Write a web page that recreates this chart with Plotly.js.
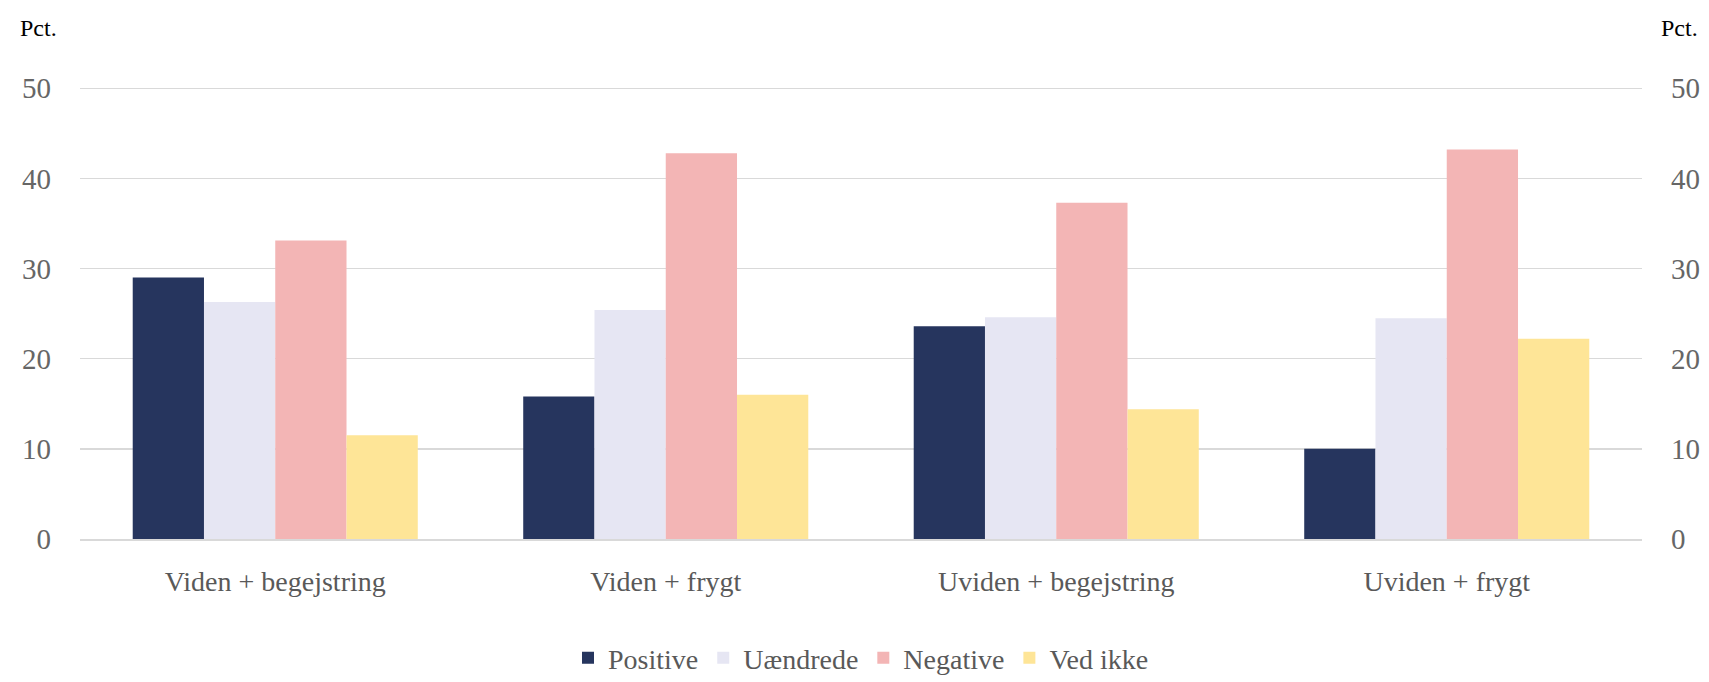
<!DOCTYPE html>
<html>
<head>
<meta charset="utf-8">
<script src="https://cdn.plot.ly/plotly-3.0.1.min.js"></script>
<style>
  html, body { margin: 0; padding: 0; background: #fff; }
  #chart { width: 1709px; height: 682px; }
</style>
</head>
<body>
<div id="chart"></div>
<script>
const categories = ['Viden + begejstring', 'Viden + frygt', 'Uviden + begejstring', 'Uviden + frygt'];
const positive = [29.0, 15.8, 23.6, 10.0];
const uaendrede = [26.3, 25.4, 24.6, 24.5];
const negative = [33.1, 42.8, 37.3, 43.2];
const vedIkke = [11.5, 16.0, 14.4, 22.2];
const yTicks = [0, 10, 20, 30, 40, 50];

const font = 'Liberation Serif';

function bar(name, values, color) {
  return {
    type: 'bar',
    name: name,
    x: categories,
    y: values,
    marker: { color: color, line: { width: 0 } },
    hoverinfo: 'x+y+name'
  };
}

const traces = [
  bar('Positive', positive, '#26355e'),
  bar('Uændrede', uaendrede, '#e6e6f3'),
  bar('Negative', negative, '#f3b5b5'),
  bar('Ved ikke', vedIkke, '#fee597'),
  // invisible trace to carry the right-hand axis
  { type: 'bar', x: categories, y: [0, 0, 0, 0], yaxis: 'y2', showlegend: false, hoverinfo: 'skip', marker: { color: 'rgba(0,0,0,0)' } }
];

const yaxisBase = {
  range: [0, 50.25],
  tickvals: yTicks,
  showgrid: true,
  gridcolor: '#d9d9d9',
  gridwidth: 1.5,
  zeroline: false,
  showline: false,
  ticks: '',
  ticklabelstandoff: 28,
  tickfont: { family: font, size: 29, color: '#666666' },
  fixedrange: true
};

const layout = {
  width: 1709,
  height: 682,
  margin: { l: 80, r: 67, t: 86, b: 143, autoexpand: false },
  paper_bgcolor: '#ffffff',
  plot_bgcolor: '#ffffff',
  barmode: 'group',
  bargap: 0.27,
  bargroupgap: 0,
  font: { family: font, color: '#555555' },
  xaxis: {
    type: 'category',
    showline: true,
    linecolor: '#d9d9d9',
    linewidth: 2,
    ticks: '',
    ticklabelstandoff: 16,
    automargin: false,
    tickfont: { family: font, size: 28, color: '#595959' }
  },
  yaxis: Object.assign({}, yaxisBase, { side: 'left', automargin: false }),
  yaxis2: Object.assign({}, yaxisBase, { side: 'right', overlaying: 'y', showgrid: false, automargin: false }),
  legend: {
    orientation: 'h',
    x: 0.5,
    xanchor: 'center',
    yref: 'container',
    y: 0.035,
    yanchor: 'middle',
    font: { family: font, size: 28, color: '#595959' },
    itemwidth: 30,
    traceorder: 'normal'
  },
  annotations: [
    { text: 'Pct.', xref: 'paper', yref: 'paper', x: 0, xshift: -62, xanchor: 'left', y: 1, yshift: 58, yanchor: 'middle', showarrow: false, font: { family: font, size: 24, color: '#000000' } },
    { text: 'Pct.', xref: 'paper', yref: 'paper', x: 1, xshift: 58, xanchor: 'right', y: 1, yshift: 58, yanchor: 'middle', showarrow: false, font: { family: font, size: 24, color: '#000000' } }
  ]
};

Plotly.newPlot('chart', traces, layout, { displayModeBar: false, staticPlot: true });
</script>
</body>
</html>
